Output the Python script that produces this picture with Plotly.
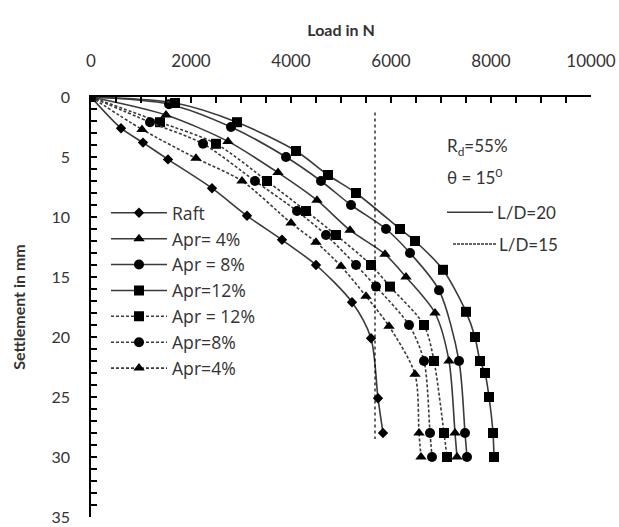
import plotly.graph_objects as go

# ---- data (load in N, settlement in mm) ----
raft_load = [0, 600, 1040, 1540, 2420, 3120, 3820, 4500, 5220, 5600, 5740, 5840]
raft_set = [0, 2.6, 3.8, 5.2, 7.6, 9.9, 11.9, 14.0, 17.1, 20.1, 25.1, 28.0]

s4_load = [0, 1500, 2740, 3740, 4520, 5180, 5880, 6300, 6880, 7160, 7280, 7320]
s4_set = [0, 1.5, 3.7, 6.3, 8.6, 11.1, 13.1, 15.0, 18.0, 22.0, 28.0, 30.0]

s8_load = [0, 1560, 2800, 3900, 4600, 5200, 5900, 6380, 6960, 7360, 7480, 7520]
s8_set = [0, 0.6, 2.5, 5.0, 7.0, 9.0, 11.0, 13.0, 16.1, 22.0, 28.0, 30.0]

s12_load = [0, 1680, 2920, 4100, 4740, 5300, 6180, 6480, 7040, 7500, 7680, 7780, 7880, 7960, 8040, 8060]
s12_set = [0, 0.5, 2.1, 4.5, 6.5, 8.0, 11.0, 12.0, 14.4, 17.9, 20.0, 22.0, 23.0, 25.0, 28.0, 30.0]

d12_load = [0, 1380, 2500, 3520, 4300, 4900, 5600, 5980, 6660, 6860, 7060, 7120]
d12_set = [0, 2.1, 3.9, 7.0, 9.5, 11.5, 14.0, 15.8, 19.0, 22.0, 28.0, 30.0]

d8_load = [0, 1180, 2240, 3280, 4120, 4700, 5300, 5700, 6360, 6660, 6780, 6820]
d8_set = [0, 2.1, 3.9, 7.0, 9.5, 11.5, 14.0, 15.8, 19.0, 22.0, 28.0, 30.0]

d4_load = [0, 1020, 2100, 3020, 4000, 4500, 5000, 5500, 5960, 6480, 6560, 6600]
d4_set = [0, 2.7, 5.1, 7.0, 10.5, 12.1, 14.1, 16.6, 19.1, 23.1, 28.0, 30.0]

ref_load = [5680, 5680]
ref_set = [1.3, 28.5]

x_ticks = [0, 2000, 4000, 6000, 8000, 10000]
x_tick_text = ["0", "2000", "4000", "6000", "8000", "10000"]
y_ticks = [0, 5, 10, 15, 20, 25, 30, 35]

series = [
    ("Raft", raft_load, raft_set, "diamond", 8, "solid"),
    ("Apr= 4%", s4_load, s4_set, "triangle-up", 10, "solid"),
    ("Apr = 8%", s8_load, s8_set, "circle", 10, "solid"),
    ("Apr=12%", s12_load, s12_set, "square", 10, "solid"),
    ("Apr = 12%", d12_load, d12_set, "square", 10, "3px,2px"),
    ("Apr=8%", d8_load, d8_set, "circle", 10, "3px,2px"),
    ("Apr=4%", d4_load, d4_set, "triangle-up", 10, "3px,2px"),
]

FONT = "Lato, 'Open Sans', sans-serif"
LFONT = "'Open Sans', Lato, sans-serif"
fig = go.Figure()
for name, xs, ys, sym, sz, dash in series:
    fig.add_trace(go.Scatter(
        x=xs, y=ys, name=name, mode="lines+markers",
        line=dict(color="#3a3a3a", width=1.6, dash=dash, shape="spline", smoothing=0.8),
        marker=dict(symbol=sym, size=sz, color="black"),
    ))

fig.add_trace(go.Scatter(x=ref_load, y=ref_set, mode="lines", showlegend=False,
                         line=dict(color="black", width=1.2, dash="dot")))

fig.update_xaxes(
    side="top", range=[0, 10000], tickvals=x_ticks, ticktext=x_tick_text,
    ticks="inside", ticklen=6, tickwidth=2, automargin=False,
    tickcolor="black", showline=True, linecolor="black", linewidth=1.5,
    minor=dict(dtick=500, ticks="inside", ticklen=6, tickwidth=2, tickcolor="black"),
    showgrid=False, zeroline=False, ticklabelstandoff=21, ticklabeloverflow="allow",
    tickfont=dict(family=FONT, size=17, color="#333"),
    title=dict(text="<b>Load in N</b>", font=dict(family=FONT, size=16, color="#333"), standoff=10),
)
fig.update_yaxes(
    range=[35, 0], tickvals=y_ticks, ticks="inside", ticklen=6, tickwidth=2, automargin=False,
    tickcolor="black", showline=True, linecolor="black", linewidth=1.5,
    minor=dict(dtick=1, ticks="inside", ticklen=6, tickwidth=2, tickcolor="black"),
    showgrid=False, zeroline=False, ticklabelstandoff=16, ticklabeloverflow="allow",
    tickfont=dict(family=FONT, size=16, color="#333"),
    title=dict(text="<b>Settlement in mm</b>", font=dict(family=FONT, size=16, color="#333"), standoff=22),
)

fig.add_annotation(xref="paper", yref="paper", x=0.708, y=0.88, xanchor="left", yanchor="middle",
                   text="R<sub>d</sub>=55%", showarrow=False, font=dict(family=FONT, size=17, color="#333"))
fig.add_annotation(xref="paper", yref="paper", x=0.708, y=0.81, xanchor="left", yanchor="middle",
                   text="θ = 15<sup>0</sup>", showarrow=False, font=dict(family=FONT, size=17, color="#333"))
fig.add_shape(type="line", xref="paper", yref="paper", x0=0.712, x1=0.804, y0=0.7257, y1=0.7257,
              line=dict(color="#3a3a3a", width=1.5))
fig.add_shape(type="line", xref="paper", yref="paper", x0=0.724, x1=0.812, y0=0.650, y1=0.650,
              line=dict(color="#3a3a3a", width=1.5, dash="3px,1px"))
fig.add_annotation(xref="paper", yref="paper", x=0.808, y=0.7257, xanchor="left", yanchor="middle",
                   text="L/D=20", showarrow=False, font=dict(family=FONT, size=17, color="#333"))
fig.add_annotation(xref="paper", yref="paper", x=0.812, y=0.650, xanchor="left", yanchor="middle",
                   text="L/D=15", showarrow=False, font=dict(family=FONT, size=17, color="#333"))

fig.update_layout(
    width=619, height=527, margin=dict(l=91, r=28, t=97, b=10, autoexpand=False),
    paper_bgcolor="white", plot_bgcolor="white",
    legend=dict(x=0.03, y=0.767, xanchor="left", yanchor="top", bgcolor="rgba(0,0,0,0)",
                font=dict(family=LFONT, size=17.6, color="#333"), itemwidth=56, tracegroupgap=0),
)

fig.write_html("out.html")
